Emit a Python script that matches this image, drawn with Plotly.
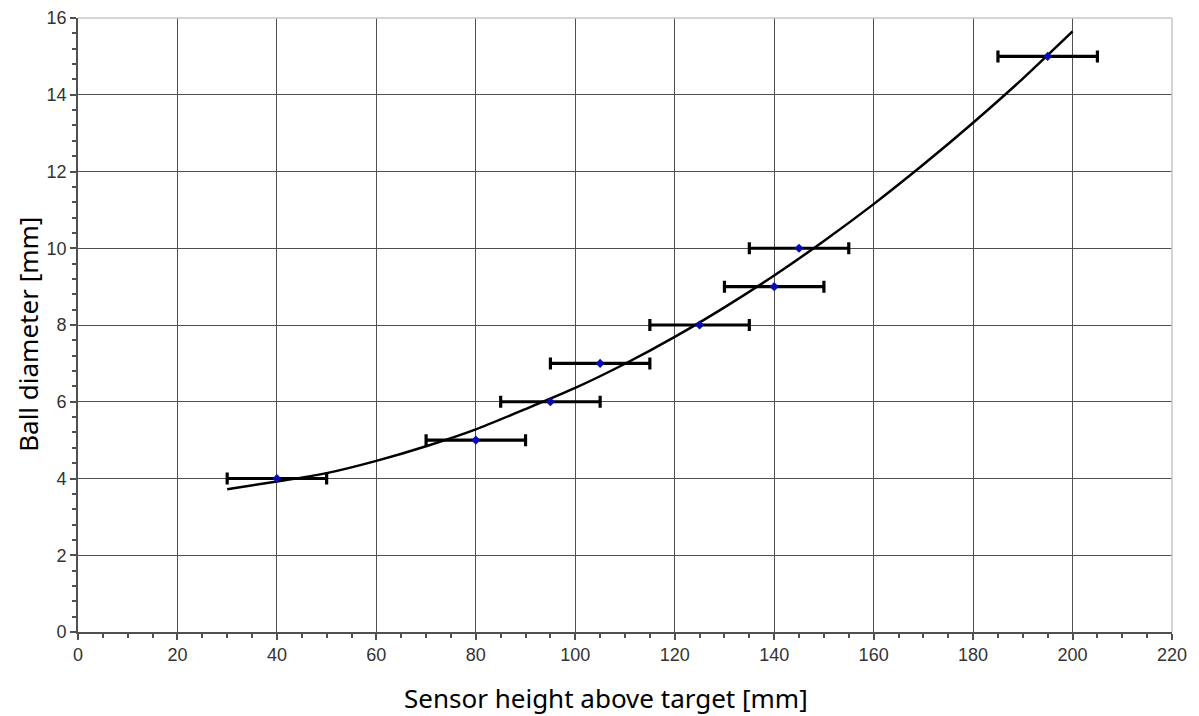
import plotly.graph_objects as go

# Measured data points
point_x = [40, 80, 95, 105, 125, 140, 145, 195]
point_y = [4, 5, 6, 7, 8, 9, 10, 15]
x_err = [10, 10, 10, 10, 10, 10, 10, 10]

# Fitted curve, values
curve_x = [30, 40, 50, 60, 70, 80, 90, 100, 110, 120, 130, 140, 150, 160, 170, 180, 190, 200]
curve_y = [3.72, 3.92, 4.14, 4.46, 4.84, 5.28, 5.81, 6.36, 6.99, 7.69, 8.46, 9.29, 10.19, 11.15, 12.18, 13.27, 14.42, 15.65]

x_ticks = [0, 20, 40, 60, 80, 100, 120, 140, 160, 180, 200, 220]
y_ticks = [0, 2, 4, 6, 8, 10, 12, 14, 16]

x_title = "Sensor height above target [mm]"
y_title = "Ball diameter [mm]"

fig = go.Figure()

fig.add_trace(go.Scatter(
    x=curve_x, y=curve_y, mode="lines",
    line=dict(color="black", width=2.5, shape="spline", smoothing=0.6),
    showlegend=False, hoverinfo="skip",
))

fig.add_trace(go.Scatter(
    x=point_x, y=point_y, mode="markers",
    marker=dict(symbol="diamond", size=7, color="#0a0ab4"),
    error_x=dict(type="data", array=x_err, color="black", thickness=3.2, width=6),
    showlegend=False,
))

tickfont = dict(family="Liberation Sans, Arial, sans-serif", size=18, color="#333333")
titlefont = dict(family="Noto Sans, sans-serif", size=26, color="black")

axis_common = dict(
    showgrid=True, gridcolor="#505050", gridwidth=1.4,
    showline=True, linecolor="#505050", linewidth=1.6,
    ticks="outside", ticklen=6, tickcolor="#505050", tickwidth=1.6,
    tickfont=tickfont, zeroline=False, automargin=False,
)

fig.update_xaxes(
    range=[0, 220], tickvals=x_ticks, ticktext=[str(v) for v in x_ticks],
    minor=dict(dtick=5, ticks="outside", ticklen=4, tickcolor="#505050", showgrid=False),
    **axis_common,
)
fig.update_yaxes(
    range=[0, 16], tickvals=y_ticks, ticktext=[str(v) for v in y_ticks],
    minor=dict(dtick=0.4, ticks="outside", ticklen=4, tickcolor="#505050", showgrid=False),
    **axis_common,
)

# light top and right borders
fig.add_shape(type="line", xref="paper", yref="paper", x0=0, x1=1, y0=1, y1=1,
              line=dict(color="#c8c8c8", width=1.6), layer="above")
fig.add_shape(type="line", xref="paper", yref="paper", x0=1, x1=1, y0=0, y1=1,
              line=dict(color="#c8c8c8", width=1.6), layer="above")

fig.add_annotation(text=x_title, xref="paper", yref="paper", x=0.4826, y=-0.107,
                   xanchor="center", yanchor="middle", showarrow=False, font=titlefont)
fig.add_annotation(text=y_title, xref="paper", yref="paper", x=-0.0457, y=0.484,
                   xanchor="center", yanchor="middle", showarrow=False, textangle=-90,
                   font=titlefont)

# page body has an 8px margin, so the figure is sized to fit the window
fig.update_layout(
    width=1191, height=708,
    margin=dict(l=70, r=27, t=10, b=84),
    plot_bgcolor="white", paper_bgcolor="white",
)

fig.write_html("out.html")
